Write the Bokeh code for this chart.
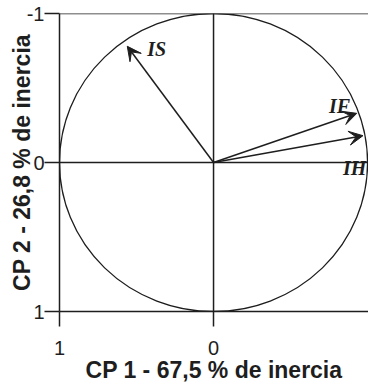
from bokeh.plotting import figure
from bokeh.models import Range1d, Span, Arrow, VeeHead, ColumnDataSource, FixedTicker
from bokeh.core.properties import value
from bokeh.embed import file_html
from bokeh.resources import INLINE

# ---- data ----
variables = ["IS", "IF", "IH"]
cp1 = [0.56, -0.93, -0.97]          # coordinate on CP 1
cp2 = [-0.78, -0.33, -0.18]         # coordinate on CP 2
label_cp1 = [0.43, -0.75, -0.84]
label_cp2 = [-0.76, -0.38, 0.04]
x_ticks = [1, 0]
y_ticks = [-1, 0, 1]
tick_text = {-1: "-1", 0: "0", 1: "1"}
x_title = "CP 1 - 67,5 % de inercia"
y_title = "CP 2 - 26,8 % de inercia"

INK = "#1e1e1e"

p = figure(width=368, height=386, output_backend="svg", toolbar_location=None,
           x_range=Range1d(1, -1.006), y_range=Range1d(1, -1),
           min_border_left=59, min_border_right=0, min_border_top=13,
           min_border_bottom=75)
p.outline_line_color = None
p.background_fill_color = "white"
p.border_fill_color = "white"
p.xgrid.visible = False
p.ygrid.visible = False

p.xaxis.ticker = FixedTicker(ticks=x_ticks)
p.yaxis.ticker = FixedTicker(ticks=y_ticks)
for ax in (p.xaxis[0], p.yaxis[0]):
    ax.major_label_overrides = tick_text
    ax.major_tick_out = 15
    ax.major_tick_in = 0
    ax.minor_tick_out = 0
    ax.minor_tick_in = 0
    ax.axis_line_width = 1.5
    ax.axis_line_color = INK
    ax.major_tick_line_width = 1.5
    ax.major_tick_line_color = INK
    ax.major_label_text_font = "Liberation Sans"
    ax.major_label_text_font_size = "20px"
    ax.major_label_text_color = INK
    ax.axis_label_text_font = "Liberation Sans"
    ax.axis_label_text_font_style = "bold"
    ax.axis_label_text_font_size = "23px"
    ax.axis_label_text_color = INK

p.xaxis.axis_label = x_title
p.yaxis.axis_label = y_title
p.xaxis.major_label_standoff = 14
p.xaxis.axis_label_standoff = -1
p.yaxis.major_label_standoff = 0
p.yaxis.axis_label_standoff = -11

for loc, dim in ((-1, "width"), (0, "width"), (0, "height")):
    p.add_layout(Span(location=loc, dimension=dim, line_color=INK, line_width=1.5))

p.ellipse(x=[0], y=[0], width=[2], height=[2], fill_color=None,
          line_color=INK, line_width=1.3)

src = ColumnDataSource(dict(x0=[0] * len(cp1), y0=[0] * len(cp2), x1=cp1, y1=cp2))
p.add_layout(Arrow(end=VeeHead(size=14, fill_color=INK, line_color=INK),
                   x_start="x0", y_start="y0", x_end="x1", y_end="y1",
                   source=src, line_width=1.5, line_color=INK))

p.text(x=label_cp1, y=label_cp2, text=variables,
       text_font=value("Liberation Serif"), text_font_style="bold italic",
       text_font_size="20px", text_color=INK,
       text_baseline="alphabetic", text_align="left")

open("out.html", "w").write(file_html(p, INLINE))
